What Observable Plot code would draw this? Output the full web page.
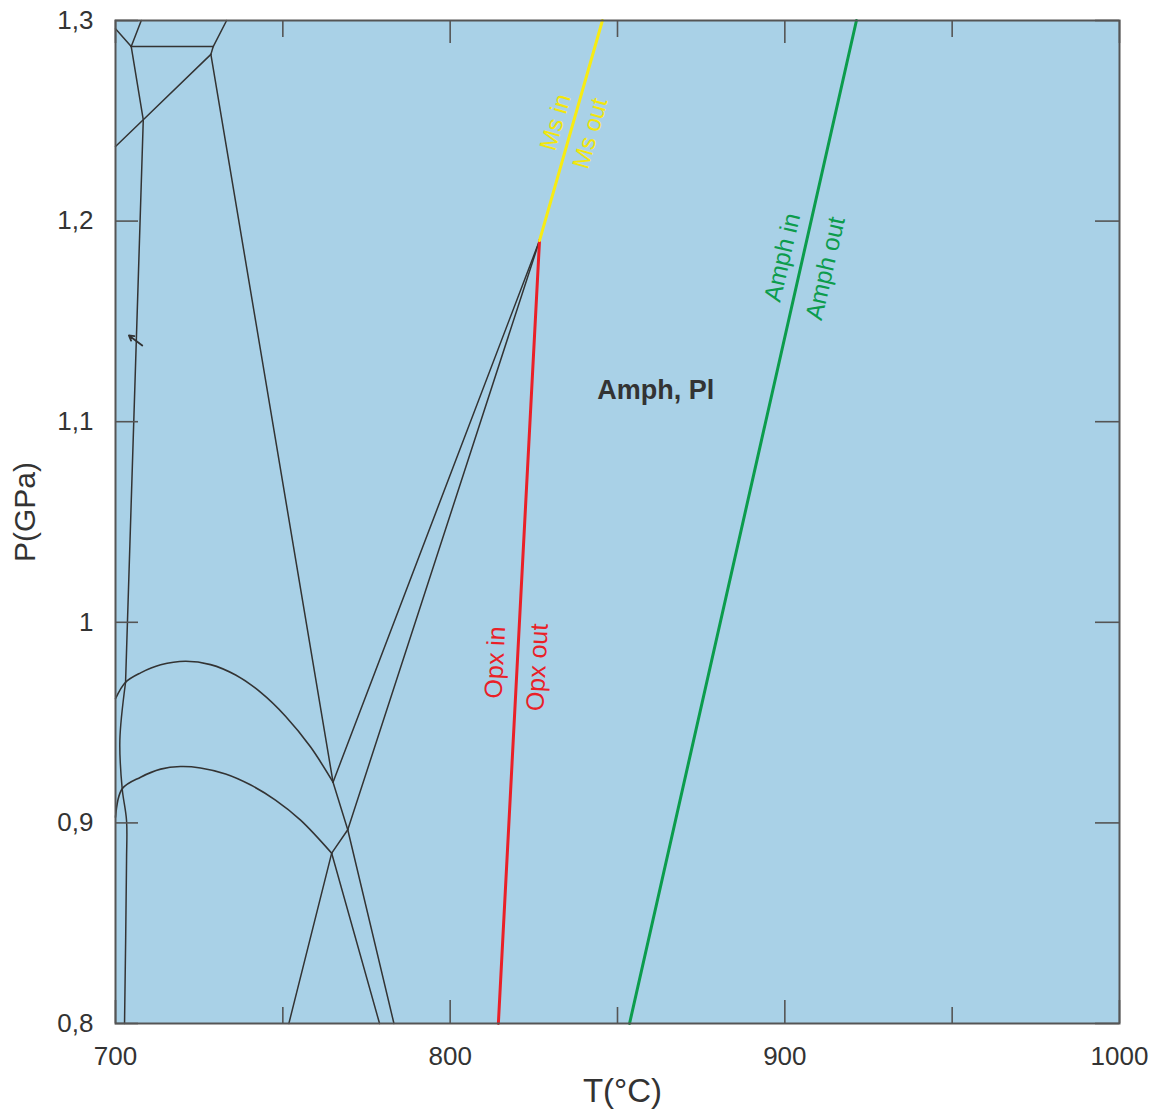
<!DOCTYPE html>
<html>
<head>
<meta charset="utf-8">
<script src="https://cdn.jsdelivr.net/npm/d3@7"></script>
<script src="https://cdn.jsdelivr.net/npm/@observablehq/plot@0.6"></script>
<style>
  body { margin: 0; background: #fff; }
</style>
</head>
<body>
<div id="chart"></div>
<script>
// P–T pseudosection: temperature (°C) vs pressure (GPa)

// ---- axis ticks ----
const tMajorTicks = [700, 800, 900, 1000];
const tMinorTicks = [750, 850, 950];
const pTicks = [0.8, 0.9, 1.0, 1.1, 1.2, 1.3];
const pTickLabels = ["0,8", "0,9", "1", "1,1", "1,2", "1,3"];

// ---- coloured reaction lines [T, P] ----
const opxLine = [[814.4, 0.8], [826.7, 1.1903]];
const msLine = [[826.7, 1.1903], [845.5, 1.3]];
const amphLine = [[853.6, 0.8], [921.4, 1.3]];

// ---- black field boundaries (straight polylines) [T, P] ----
const straightBoundaries = [
  [[700.0, 1.2959], [704.7, 1.2870]],
  [[704.7, 1.2870], [707.7, 1.3000]],
  [[704.7, 1.2870], [729.2, 1.2870]],
  [[729.2, 1.2870], [733.2, 1.3000]],
  [[729.2, 1.2870], [728.5, 1.2831]],
  [[728.5, 1.2831], [708.3, 1.2505], [700.0, 1.2372]],
  [[704.7, 1.2870], [708.3, 1.2505], [703.0, 0.9700]],
  [[728.5, 1.2831], [765.0, 0.9203]],
  [[826.7, 1.1903], [765.0, 0.9203]],
  [[826.7, 1.1903], [769.4, 0.8966]],
  [[765.0, 0.9203], [769.4, 0.8966]],
  [[769.4, 0.8966], [764.6, 0.8849]],
  [[769.4, 0.8966], [783.2, 0.8000]],
  [[764.6, 0.8849], [751.8, 0.8000]],
  [[764.6, 0.8849], [778.9, 0.8000]]
];

// ---- black field boundaries (curved) [T, P] ----
const upperDome = [
  [700.0, 0.9619], [703.0, 0.9701], [707.5, 0.9748], [713.5, 0.9788],
  [720.9, 0.9806], [728.4, 0.9789], [735.9, 0.9737], [743.3, 0.9652],
  [750.8, 0.9532], [758.3, 0.9378], [765.0, 0.9203]
];
const lowerDome = [
  [700.0, 0.9028], [702.0, 0.9170], [707.5, 0.9228], [713.5, 0.9268],
  [719.4, 0.9281], [725.4, 0.9274], [732.9, 0.9244], [740.3, 0.9190],
  [747.8, 0.9114], [755.3, 0.9014], [764.6, 0.8849]
];
const leftBoundary = [
  [703.0, 0.9700], [701.3, 0.9411], [702.0, 0.9170], [703.3, 0.9012],
  [703.3, 0.8813], [702.7, 0.8000]
];

// ---- pointer arrow near the left boundary ----
const pointer = [{T1: 708.0, P1: 1.138, T2: 704.0, P2: 1.143}];

// ---- labels ----
const fieldLabels = [{T: 861.4, P: 1.1156, text: "Amph, Pl"}];
const opxLabels = [{T: 813.5, P: 0.980, text: "Opx in"}, {T: 826.1, P: 0.9775, text: "Opx out"}];
const msLabels = [{T: 831.5, P: 1.2492, text: "Ms in"}, {T: 841.9, P: 1.2437, text: "Ms out"}];
const amphLabels = [{T: 899.3, P: 1.1819, text: "Amph in"}, {T: 912.2, P: 1.1764, text: "Amph out"}];

// ---- layout ----
const width = 1159, height = 1112;
const margin = {top: 20, right: 40, bottom: 89, left: 115};
const tDomain = [700, 1000], pDomain = [0.8, 1.3];
const gpaPerPx = (pDomain[1] - pDomain[0]) / (height - margin.top - margin.bottom);
const degPerPx = (tDomain[1] - tDomain[0]) / (width - margin.left - margin.right);

const ink = "#333333";
const toPts = (line) => line.map(([T, P]) => ({T, P}));
const segData = straightBoundaries.flatMap((line, i) => line.map(([T, P]) => ({T, P, id: i})));

const plot = Plot.plot({
  width, height,
  marginTop: margin.top, marginRight: margin.right,
  marginBottom: margin.bottom, marginLeft: margin.left,
  x: {domain: tDomain},
  y: {domain: pDomain},
  style: {fontFamily: "'Liberation Sans', Arial, sans-serif", color: ink, background: "#fff"},
  marks: [
    Plot.frame({fill: "#a9d1e7", stroke: null}),

    // field boundaries
    Plot.line(segData, {x: "T", y: "P", z: "id", stroke: ink, strokeWidth: 1.5}),
    Plot.line(toPts(upperDome), {x: "T", y: "P", stroke: ink, strokeWidth: 1.6, curve: "catmull-rom"}),
    Plot.line(toPts(lowerDome), {x: "T", y: "P", stroke: ink, strokeWidth: 1.6, curve: "catmull-rom"}),
    Plot.line(toPts(leftBoundary), {x: "T", y: "P", stroke: ink, strokeWidth: 1.5, curve: "catmull-rom"}),
    Plot.arrow(pointer, {x1: "T1", y1: "P1", x2: "T2", y2: "P2", stroke: ink, strokeWidth: 1.8, headLength: 8}),

    // reaction lines
    Plot.line(toPts(opxLine), {x: "T", y: "P", stroke: "#ea2027", strokeWidth: 3}),
    Plot.line(toPts(msLine), {x: "T", y: "P", stroke: "#f7ec13", strokeWidth: 3}),
    Plot.line(toPts(amphLine), {x: "T", y: "P", stroke: "#0c9c4c", strokeWidth: 3}),

    // labels
    Plot.text(fieldLabels, {x: "T", y: "P", text: "text", fontSize: 27, fontWeight: "bold", fill: ink}),
    Plot.text(opxLabels, {x: "T", y: "P", text: "text", rotate: -87, fontSize: 25, fill: "#ea2027"}),
    Plot.text(msLabels, {x: "T", y: "P", text: "text", rotate: -74, fontSize: 24, fill: "#f2e60c"}),
    Plot.text(amphLabels, {x: "T", y: "P", text: "text", rotate: -77, fontSize: 24.5, fill: "#0c9c4c"}),

    // inward ticks on all four sides
    Plot.ruleX(tMajorTicks, {x: d => d, y1: pDomain[0], y2: pDomain[0] + 23 * gpaPerPx, stroke: "#555", strokeWidth: 1.6}),
    Plot.ruleX(tMinorTicks, {x: d => d, y1: pDomain[0], y2: pDomain[0] + 16 * gpaPerPx, stroke: "#555", strokeWidth: 1.6}),
    Plot.ruleX(tMajorTicks, {x: d => d, y1: pDomain[1], y2: pDomain[1] - 23 * gpaPerPx, stroke: "#555", strokeWidth: 1.6}),
    Plot.ruleX(tMinorTicks, {x: d => d, y1: pDomain[1], y2: pDomain[1] - 17 * gpaPerPx, stroke: "#555", strokeWidth: 1.6}),
    Plot.ruleY(pTicks, {y: d => d, x1: tDomain[0], x2: tDomain[0] + 23 * degPerPx, stroke: "#555", strokeWidth: 1.6}),
    Plot.ruleY(pTicks, {y: d => d, x1: tDomain[1], x2: tDomain[1] - 24 * degPerPx, stroke: "#555", strokeWidth: 1.6}),

    Plot.frame({stroke: "#555", strokeWidth: 2}),

    // tick labels
    Plot.axisX(tMajorTicks, {anchor: "bottom", tickSize: 0, tickPadding: 23, fontSize: 26, label: null, tickFormat: d => String(d)}),
    Plot.axisY(pTicks, {anchor: "left", tickSize: 0, tickPadding: 22, fontSize: 26, label: null,
      tickFormat: d => pTickLabels[pTicks.indexOf(d)]}),

    // axis titles
    Plot.text(["T(°C)"], {frameAnchor: "bottom", dx: 5, dy: 78, fontSize: 33, fill: ink}),
    Plot.text(["P(GPa)"], {frameAnchor: "left", textAnchor: "middle", dx: -90, dy: -10, rotate: -90, fontSize: 30, fill: ink})
  ]
});

document.getElementById("chart").appendChild(plot);
</script>
</body>
</html>
